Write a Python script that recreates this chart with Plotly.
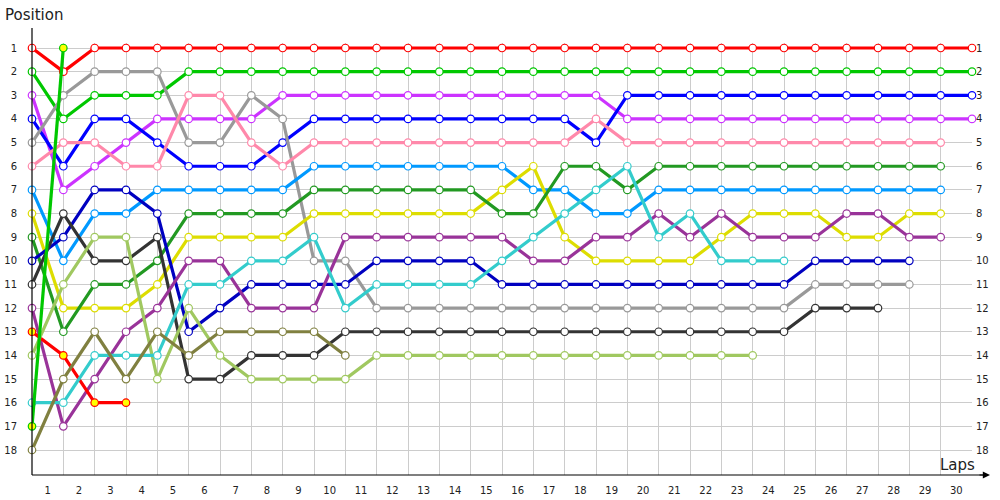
import plotly.graph_objects as go

laps = list(range(0, 31))
lap_labels = [str(i) for i in range(1, 31)]
positions = list(range(1, 19))

red = [1, 2, 1, 1, 1, 1, 1, 1, 1, 1, 1, 1, 1, 1, 1, 1, 1, 1, 1, 1, 1, 1, 1, 1, 1, 1, 1, 1, 1, 1, 1]
green = [2, 4, 3, 3, 3, 2, 2, 2, 2, 2, 2, 2, 2, 2, 2, 2, 2, 2, 2, 2, 2, 2, 2, 2, 2, 2, 2, 2, 2, 2, 2]
magenta = [3, 7, 6, 5, 4, 4, 4, 4, 3, 3, 3, 3, 3, 3, 3, 3, 3, 3, 3, 4, 4, 4, 4, 4, 4, 4, 4, 4, 4, 4, 4]
blue = [4, 6, 4, 4, 5, 6, 6, 6, 5, 4, 4, 4, 4, 4, 4, 4, 4, 4, 5, 3, 3, 3, 3, 3, 3, 3, 3, 3, 3, 3, 3]
gray = [5, 3, 2, 2, 2, 5, 5, 3, 4, 10, 10, 12, 12, 12, 12, 12, 12, 12, 12, 12, 12, 12, 12, 12, 12, 11, 11, 11, 11]
pink = [6, 5, 5, 6, 6, 3, 3, 5, 6, 5, 5, 5, 5, 5, 5, 5, 5, 5, 4, 5, 5, 5, 5, 5, 5, 5, 5, 5, 5, 5]
azure = [7, 10, 8, 8, 7, 7, 7, 7, 7, 6, 6, 6, 6, 6, 6, 6, 7, 7, 8, 8, 7, 7, 7, 7, 7, 7, 7, 7, 7, 7]
yellow = [8, 12, 12, 12, 11, 9, 9, 9, 9, 8, 8, 8, 8, 8, 8, 7, 6, 9, 10, 10, 10, 10, 9, 8, 8, 8, 9, 9, 8, 8]
dkgreen = [9, 13, 11, 11, 10, 8, 8, 8, 8, 7, 7, 7, 7, 7, 7, 8, 8, 6, 6, 7, 6, 6, 6, 6, 6, 6, 6, 6, 6, 6]
navy = [10, 9, 7, 7, 8, 13, 12, 11, 11, 11, 11, 10, 10, 10, 10, 11, 11, 11, 11, 11, 11, 11, 11, 11, 11, 10, 10, 10, 10]
black = [11, 8, 10, 10, 9, 15, 15, 14, 14, 14, 13, 13, 13, 13, 13, 13, 13, 13, 13, 13, 13, 13, 13, 13, 13, 12, 12, 12]
purple = [12, 17, 15, 13, 12, 10, 10, 12, 12, 12, 9, 9, 9, 9, 9, 9, 10, 10, 9, 9, 8, 9, 8, 9, 9, 9, 8, 8, 9, 9]
red_y = [13, 14, 16, 16]
lightgreen = [14, 11, 9, 9, 15, 12, 14, 15, 15, 15, 15, 14, 14, 14, 14, 14, 14, 14, 14, 14, 14, 14, 14, 14]
cyan = [16, 16, 14, 14, 14, 11, 11, 10, 10, 9, 12, 11, 11, 11, 11, 10, 9, 8, 7, 6, 9, 8, 10, 10, 10]
green_y = [17, 1]
olive = [18, 15, 13, 15, 13, 14, 13, 13, 13, 13, 14]

series = [
    (red, "#FF0000", "white"),
    (green, "#00C800", "white"),
    (magenta, "#CC33FF", "white"),
    (blue, "#0000FF", "white"),
    (gray, "#999999", "white"),
    (pink, "#FF88AA", "white"),
    (azure, "#0099FF", "white"),
    (yellow, "#DDDD00", "white"),
    (dkgreen, "#229922", "white"),
    (navy, "#0000C0", "white"),
    (black, "#333333", "white"),
    (purple, "#993399", "white"),
    (red_y, "#FF0000", "#FFFF00"),
    (lightgreen, "#A0C860", "white"),
    (cyan, "#33CCCC", "white"),
    (green_y, "#00C800", "#FFFF00"),
    (olive, "#808040", "white"),
]

fig = go.Figure()
for vals, col, fill in series:
    fig.add_trace(go.Scatter(
        x=laps[:len(vals)], y=vals, mode="lines+markers",
        line=dict(color=col, width=3.2),
        marker=dict(size=7.5, color=fill, line=dict(color=col, width=1.2)),
        showlegend=False, hoverinfo="skip", cliponaxis=False,
    ))

# invisible trace to carry the right-hand position axis
fig.add_trace(go.Scatter(x=[0], y=[1], yaxis="y2", mode="markers",
                         marker=dict(opacity=0), showlegend=False, hoverinfo="skip"))

ppp = 402 / 17.0
y_top = 1 - 5 / ppp
y_bot = 1 + 427 / ppp
fs = "DejaVu Sans"

fig.update_layout(
    width=1000, height=500,
    margin=dict(l=32, r=28, t=43, b=25, autoexpand=False),
    plot_bgcolor="white", paper_bgcolor="white",
    font=dict(family=fs, size=10, color="#222"),
    xaxis=dict(
        range=[0, 30], showgrid=False, zeroline=False, showline=False, automargin=False,
        tickvals=[i - 0.5 for i in range(1, 31)], ticktext=lap_labels,
        ticks="", ticklabelstandoff=8, tickfont=dict(size=10, family=fs, color="#222"),
        minor=dict(tickvals=laps, showgrid=True, gridcolor="#CCCCCC", gridwidth=1, ticks=""),
    ),
    yaxis=dict(
        range=[y_bot, y_top], showgrid=True, gridcolor="#CCCCCC", gridwidth=1,
        zeroline=False, showline=False, automargin=False, tickvals=positions,
        ticktext=[str(p) for p in positions], ticks="", ticklabelstandoff=14,
        tickfont=dict(size=10, family=fs, color="#222"),
    ),
    yaxis2=dict(
        range=[y_bot, y_top], overlaying="y", side="right", anchor="x", automargin=False,
        showgrid=False, zeroline=False, showline=False, tickvals=positions,
        ticktext=[str(p) for p in positions], ticks="", ticklabelstandoff=3,
        tickfont=dict(size=10, family=fs, color="#222"),
    ),
    shapes=[
        dict(type="line", xref="paper", yref="paper", x0=0, x1=(985 - 32) / 940, y0=0, y1=0,
             line=dict(color="black", width=1.2)),
        dict(type="line", xref="paper", yref="paper", x0=0, x1=0, y0=0, y1=1 + 15 / 432,
             line=dict(color="black", width=1.2)),
    ],
    annotations=[
        dict(text="Position", xref="paper", yref="paper", x=-29 / 940, y=1 + 28 / 432,
             xanchor="left", yanchor="middle", showarrow=False,
             font=dict(size=15, family=fs, color="#222")),
        dict(text="Laps", xref="paper", yref="paper", x=(977 - 32) / 940, y=10 / 432,
             xanchor="right", yanchor="middle", showarrow=False,
             font=dict(size=15, family=fs, color="#222")),
        dict(text="", xref="paper", yref="paper", x=(990 - 32) / 940, y=0,
             ax=-12, ay=0, showarrow=True, arrowhead=2, arrowsize=1.2,
             arrowwidth=1.2, arrowcolor="black"),
    ],
)

fig.write_html("out.html", config={"displayModeBar": False},
               post_script="document.body.style.margin='0';document.body.style.overflow='hidden';")
